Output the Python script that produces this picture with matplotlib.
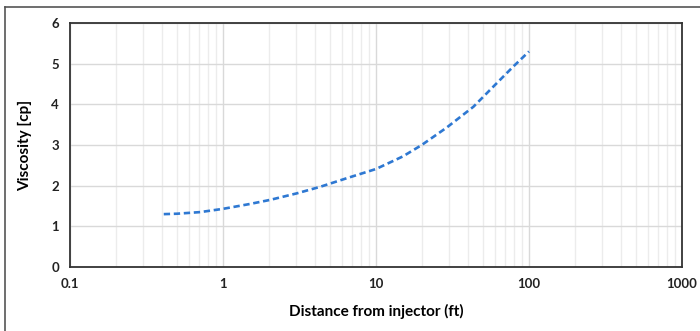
import matplotlib.pyplot as plt
from matplotlib.lines import Line2D

plt.rcParams['font.family'] = ['Lato', 'DejaVu Sans']

# viscosity profile away from the injector
distance = [0.41, 0.5, 0.71, 1.0, 1.5, 2.03, 3.03, 4.3, 6.4, 10, 15, 19.9, 29, 43.3, 64.6, 80, 100]
viscosity = [1.30, 1.31, 1.35, 1.43, 1.55, 1.65, 1.81, 1.97, 2.18, 2.41, 2.72, 3.0, 3.43, 3.94, 4.6, 4.95, 5.3]

x_ticks = [0.1, 1, 10, 100, 1000]
x_ticklabels = ['0.1', '1', '10', '100', '1000']
y_ticks = [0, 1, 2, 3, 4, 5, 6]

fig = plt.figure(figsize=(7, 3.31), dpi=100)
ax = fig.add_axes([70 / 700, 1 - 267 / 331, 612 / 700, 244 / 331])

ax.plot(distance, viscosity, color='#2E78D2', lw=1.9, ls=(0, (2.4, 1.4)))

ax.set_xscale('log')
ax.set_xlim(0.1, 1000)
ax.set_ylim(0, 6)
ax.set_xticks(x_ticks)
ax.set_xticklabels(x_ticklabels)
ax.set_yticks(y_ticks)
ax.tick_params(which='both', length=0, labelsize=9.5, pad=8)
for lab in ax.get_xticklabels() + ax.get_yticklabels():
    lab.set_fontweight('bold')
    lab.set_color('#222222')

ax.grid(which='major', color='#d9d9d9', lw=1.0)
ax.grid(which='minor', axis='x', color='#ececec', lw=1.0)
ax.set_axisbelow(True)
for s in ax.spines.values():
    s.set_color('#333333')
    s.set_linewidth(1.3)

ax.set_xlabel('Distance from injector (ft)', fontsize=11, fontweight='bold', labelpad=10)
ax.set_ylabel('Viscosity [cp]', fontsize=11, fontweight='bold', labelpad=14)

# outer frame
fig.add_artist(Line2D([5 / 700, 1], [1 - 7 / 331, 1 - 7 / 331], color='#555555', lw=1.2))
fig.add_artist(Line2D([5 / 700, 5 / 700], [0, 1 - 7 / 331], color='#555555', lw=1.2))

fig.savefig('out.png', dpi=100)
